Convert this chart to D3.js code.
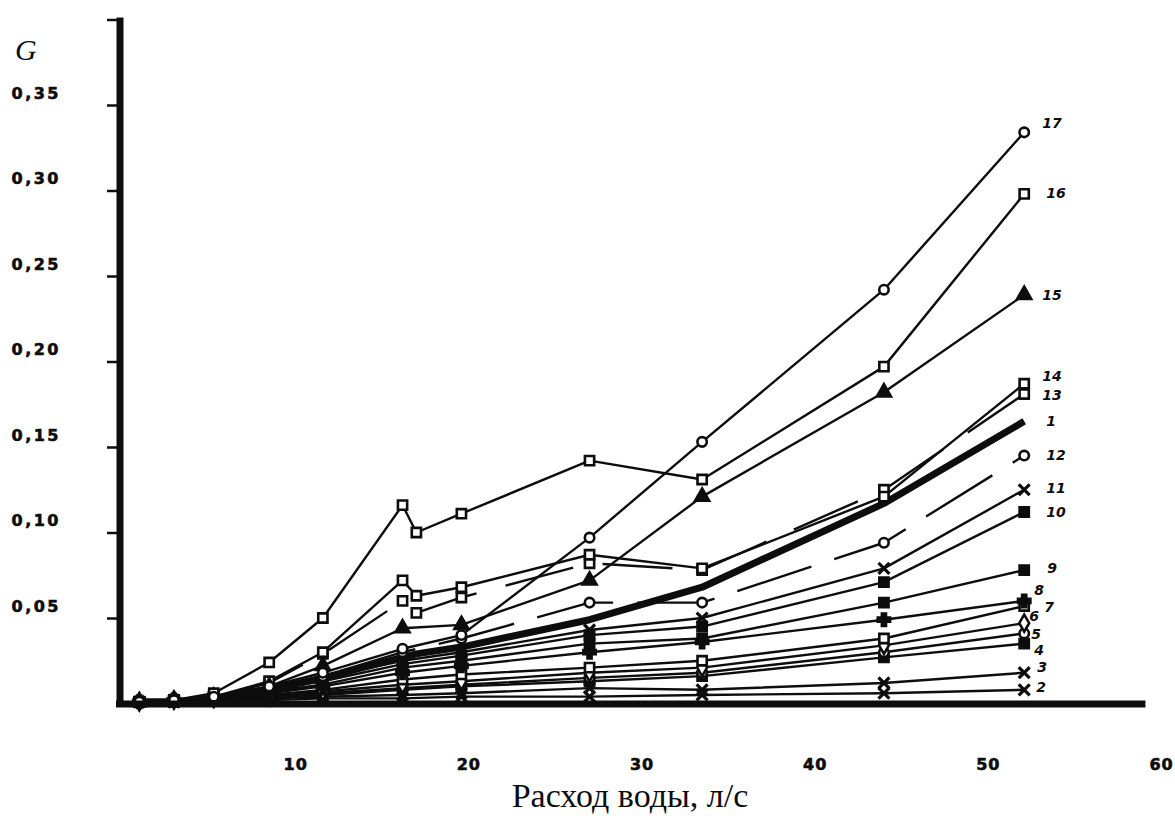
<!DOCTYPE html>
<html><head><meta charset="utf-8">
<script src="https://cdn.jsdelivr.net/npm/d3@7"></script>
<style>body{margin:0;background:#fff} svg{display:block}</style>
</head><body><svg id="c" width="1175" height="819"></svg>
<script>
// ---- data ----
const flow = [1, 3, 5.3, 8.5, 11.6, 16.2, 17, 19.6, 27, 33.5, 44, 52.1];
const seriesNames = ["1","2","3","4","5","6","7","8","9","10","11","12","13","14","15","16","17"];
const g1  = [0.001,0.001,0.003,0.008,0.015,0.027,0.029,0.033,0.049,0.068,0.117,0.165];
const g2  = [0.001,0.001,0.002,0.002,0.003,0.003,null,0.004,0.004,0.005,0.006,0.008];
const g3  = [0.001,0.001,0.002,0.003,0.004,0.005,null,0.006,0.009,0.008,0.012,0.018];
const g4  = [0.001,0.001,0.002,0.003,0.005,0.008,null,0.010,0.013,0.016,0.027,0.035];
const g5  = [0.001,0.001,0.002,0.004,0.006,0.009,null,0.011,0.015,0.018,0.030,0.041];
const g6  = [0.001,0.002,0.003,0.004,0.007,0.011,null,0.013,0.018,0.021,0.034,0.047];
const g7  = [0.001,0.002,0.003,0.005,0.008,0.014,null,0.017,0.021,0.025,0.038,0.057];
const g8  = [0.001,0.002,0.003,0.006,0.010,0.018,null,0.022,0.030,0.036,0.049,0.060];
const g9  = [0.001,0.002,0.003,0.007,0.011,0.021,null,0.025,0.035,0.038,0.059,0.078];
const g10 = [0.001,0.002,0.003,0.008,0.013,0.023,null,0.028,0.040,0.045,0.071,0.112];
const g11 = [0.001,0.002,0.004,0.008,0.015,0.025,null,0.030,0.043,0.050,0.079,0.125];
const g12 = [0.001,0.002,0.004,0.009,0.016,0.030,null,0.038,0.059,0.059,0.094,0.145];
const g13 = [0.001,0.002,0.004,0.012,0.029,0.060,0.053,0.062,0.082,0.078,0.125,0.181];
const g14 = [0.001,0.002,0.004,0.013,0.030,0.072,0.063,0.068,0.087,0.079,0.121,0.187];
const g15 = [0.001,0.002,0.004,0.010,0.022,0.044,null,0.046,0.072,0.121,0.182,0.239];
const g16 = [0.001,0.002,0.006,0.024,0.050,0.116,0.100,0.111,0.142,0.131,0.197,0.298];
const g17 = [0.001,0.002,0.004,0.010,0.018,0.032,null,0.040,0.097,0.153,0.242,0.334];
const seriesValues = [g1,g2,g3,g4,g5,g6,g7,g8,g9,g10,g11,g12,g13,g14,g15,g16,g17];
const yTicks = [0.05,0.10,0.15,0.20,0.25,0.30,0.35,0.40];
const xTicks = [10,20,30,40,50,60];
const yTitle = "G";
const xTitle = "Расход воды, л/с";

// ---- styles / layout (not data) ----
const markerStyle = {
  "1":null,"2":"x","3":"x","4":"sqf","5":"circle","6":"diamond","7":"sq","8":"cross",
  "9":"sqf","10":"sqf","11":"x","12":"circle","13":"sq","14":"sq","15":"tri","16":"sq","17":"circle"
};
const dashStyle = {"12":"78 24","13":"70 30"};
const labelNudge = {
  "1":[22,0],"2":[12,-3],"3":[13,-6],"4":[10,6],"5":[7,1],"6":[5,-7],"7":[20,1],"8":[10,-11],
  "9":[23,-2],"10":[22,0],"11":[22,-2],"12":[22,0],"13":[18,1],"14":[18,-8],"15":[18,0],"16":[22,-1],"17":[18,-9]
};

const W = 1175, H = 819;
const svg = d3.select("#c");
svg.append("rect").attr("width",W).attr("height",H).attr("fill","#fff");

const x = d3.scaleLinear().domain([0,60]).range([122,1161]);
const y = d3.scaleLinear().domain([0,0.40]).range([703.5,19.5]);
const ink = "#0d0d0d";

// y axis (ticks + labels)
const yAxis = d3.axisLeft(y).tickValues(yTicks).tickSize(13).tickSizeOuter(0).tickPadding(46)
  .tickFormat(d => d > 0.375 ? "" : d3.format(".2f")(d).replace(".", ","));
const ya = svg.append("g").attr("transform","translate(120,0)").call(yAxis);
ya.select(".domain").remove();
ya.selectAll(".tick line").attr("stroke",ink).attr("stroke-width",2.5);
ya.selectAll(".tick text").attr("fill",ink).attr("transform","translate(0,-12)")
  .style("font-family","'DejaVu Sans', sans-serif").style("font-weight","bold")
  .style("font-size","16px").style("letter-spacing","2.5px")
  .attr("stroke",ink).attr("stroke-width",0.6);

// x axis labels
const xAxis = d3.axisBottom(x).tickValues(xTicks).tickSize(0).tickPadding(56).tickFormat(d3.format("d"));
const xa = svg.append("g").attr("transform","translate(0,703)").call(xAxis);
xa.select(".domain").remove();
xa.selectAll(".tick text").attr("fill",ink)
  .style("font-family","'DejaVu Sans', sans-serif").style("font-weight","bold")
  .style("font-size","16px").style("letter-spacing","1px")
  .attr("stroke",ink).attr("stroke-width",0.6);

// series lines
const line = d3.line().x(d => x(d.f)).y(d => y(d.g));
const series = seriesNames.map((n,i) => ({
  name:n,
  pts: flow.map((f,j) => ({f, g: seriesValues[i][j]})).filter(d => d.g != null)
}));

const gl = svg.append("g");
series.forEach(s => {
  gl.append("path").datum(s.pts).attr("d", line)
    .attr("fill","none").attr("stroke",ink)
    .attr("stroke-width", s.name === "1" ? 7 : 2.4)
    .attr("stroke-linejoin","round")
    .attr("stroke-dasharray", dashStyle[s.name] || null);
});

// markers
const symType = {x:d3.symbolX, circle:d3.symbolCircle, diamond:d3.symbolDiamond, sq:d3.symbolSquare,
                 sqf:d3.symbolSquare, cross:d3.symbolCross, tri:d3.symbolTriangle};
series.forEach(s => {
  const m = markerStyle[s.name];
  if (!m) return;
  const sym = d3.symbol().type(symType[m]).size(m === "x" ? 80 : (m === "circle" ? 70 : 85));
  gl.selectAll(null).data(s.pts).join("path")
    .attr("transform", d => `translate(${x(d.f)},${y(d.g)})`)
    .attr("d", sym)
    .attr("fill", (m === "sqf" || m === "tri" || m === "cross") ? ink : "#fff")
    .attr("stroke", ink)
    .attr("stroke-width", m === "x" ? 3.2 : 2.6);
});

// axes lines (thick)
svg.append("line").attr("x1",116).attr("x2",x(59.1)).attr("y1",704).attr("y2",704)
  .attr("stroke",ink).attr("stroke-width",7);
svg.append("line").attr("x1",120).attr("x2",120).attr("y1",y(0.40)-2).attr("y2",707)
  .attr("stroke",ink).attr("stroke-width",7);

// series labels
const gt = svg.append("g");
series.forEach(s => {
  const last = s.pts[s.pts.length-1];
  const nd = labelNudge[s.name];
  gt.append("text").attr("x", x(last.f) + nd[0]).attr("y", y(last.g) + nd[1])
    .attr("dy","0.35em").attr("fill",ink)
    .style("font-family","'DejaVu Sans', sans-serif").style("font-weight","bold")
    .style("font-style","italic").style("font-size","14px")
    .text(s.name);
});

// titles
svg.append("text").attr("x",15).attr("y",60).text(yTitle).attr("fill",ink)
  .style("font-family","'Liberation Serif', serif").style("font-style","italic").style("font-size","30px");
svg.append("text").attr("x",630).attr("y",807).attr("text-anchor","middle").text(xTitle).attr("fill",ink)
  .style("font-family","'Liberation Serif', serif").style("font-size","34px");
</script>
</body></html>
